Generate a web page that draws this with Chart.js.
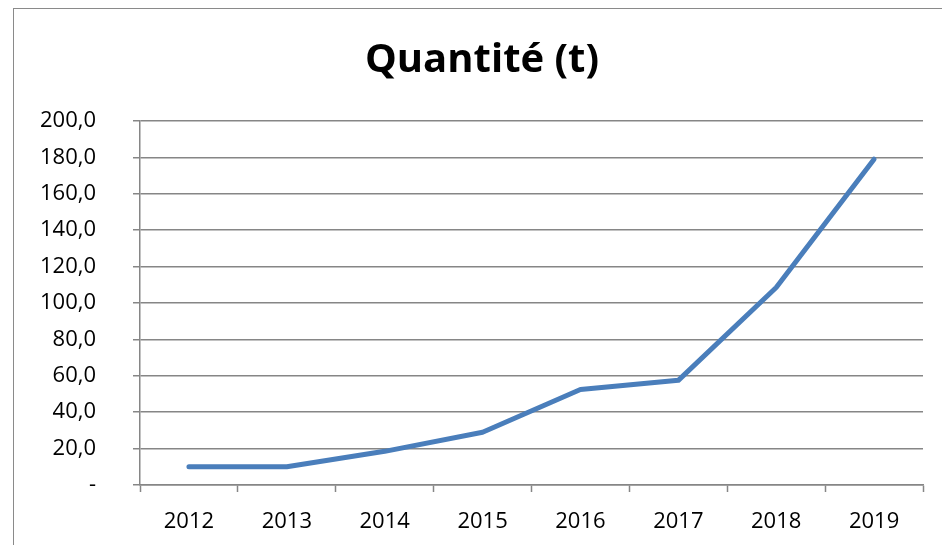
<!DOCTYPE html>
<html>
<head>
<meta charset="utf-8">
<script src="https://cdn.jsdelivr.net/npm/chart.js@4"></script>
<style>
  html, body { margin: 0; padding: 0; background: #fff; overflow: hidden; }
  #wrap { position: relative; width: 942px; height: 545px; }
  #frame {
    position: absolute; left: 13px; top: 8px; width: 960px; height: 560px;
    border: 1.5px solid #8a8a8a; box-sizing: border-box;
  }
  #quantityChart { position: absolute; left: 0; top: 0; }
</style>
</head>
<body>
<div id="wrap">
  <div id="frame"></div>
  <canvas id="quantityChart" width="942" height="545"></canvas>
</div>
<script>
// Quantité (t) par année
const years = ['2012', '2013', '2014', '2015', '2016', '2017', '2018', '2019'];
const quantities = [10.0, 10.0, 18.5, 29.0, 52.5, 57.5, 108.5, 179.0];
const yTickLabels = ['-', '20,0', '40,0', '60,0', '80,0', '100,0', '120,0', '140,0', '160,0', '180,0', '200,0'];

const FONT = 'Open Sans, Noto Sans, sans-serif';
const GRID = '#868686';

const chart = new Chart(document.getElementById('quantityChart'), {
  type: 'line',
  data: {
    labels: years,
    datasets: [{
      label: 'Quantité (t)',
      data: quantities,
      borderColor: '#4a7ebb',
      borderWidth: 5,
      borderCapStyle: 'round',
      borderJoinStyle: 'round',
      pointRadius: 0,
      tension: 0,
      fill: false,
    }],
  },
  options: {
    responsive: false,
    animation: false,
    // left/right padding chosen so the title centres like the original
    layout: { padding: { left: 41, right: 19, top: 0, bottom: 0 } },
    plugins: {
      legend: { display: false },
      tooltip: { enabled: false },
      title: {
        display: true,
        text: 'Quantité (t)',
        color: '#000',
        font: { family: FONT, size: 40, weight: 'bold', lineHeight: 1.2 },
        padding: { top: 37, bottom: 36 },
      },
    },
    scales: {
      x: {
        offset: true,
        afterFit: (s) => { s.height = 60; },
        grid: {
          offset: true,
          drawOnChartArea: false,
          drawTicks: true,
          tickLength: 7,
          tickColor: GRID,
          tickWidth: 1.5,
        },
        border: { color: GRID, width: 1.5 },
        ticks: {
          color: '#000',
          padding: 17,
          font: { family: FONT, size: 22 },
          maxRotation: 0,
        },
      },
      y: {
        min: 0,
        max: 200,
        afterFit: (s) => { s.width = 99; },
        grid: {
          color: GRID,
          lineWidth: 1.5,
          tickLength: 7,
          tickColor: GRID,
        },
        border: { color: GRID, width: 1.5 },
        ticks: {
          stepSize: 20,
          color: '#000',
          padding: 37,
          font: { family: FONT, size: 22 },
          callback: (v, i) => yTickLabels[i],
        },
      },
    },
  },
});
</script>
</body>
</html>
